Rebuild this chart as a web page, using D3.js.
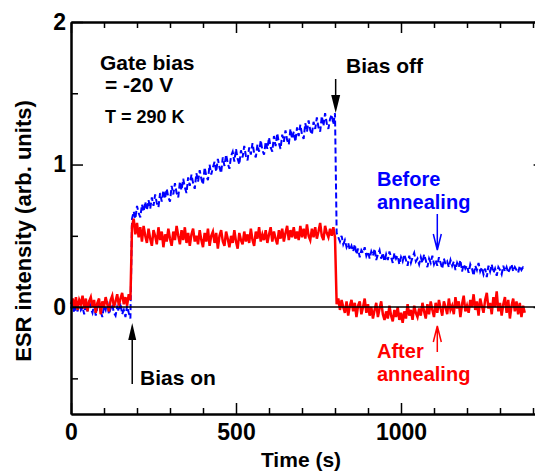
<!DOCTYPE html>
<html>
<head>
<meta charset="utf-8">
<script src="https://cdn.jsdelivr.net/npm/d3@7"></script>
<style>
  body { margin: 0; background: #fff; }
  svg text { font-family: "Liberation Sans", Arial, sans-serif; font-weight: bold; }
</style>
</head>
<body>
<div id="chart"></div>
<script>
var SAMPLE_STEP = 5;

// before annealing (blue, dashed)
var beforePre = [-0.01,0.03,-0.04,0.01,-0.03,0.04,-0.02,0.00,-0.05,0.02,-0.03,0.05,-0.01,-0.04,0.02,-0.06,0.00,0.03,-0.03,-0.07,
  0.01,-0.02,0.04,-0.05,-0.01,0.02,-0.04,-0.06,0.00,-0.03,0.03,-0.05,-0.02,-0.07,0.01,-0.04,-0.08];
var beforeOn = [0.62,0.67,0.62,0.71,0.66,0.63,0.72,0.67,0.74,0.68,
  0.75,0.69,0.77,0.71,0.79,0.73,0.70,0.80,0.74,0.82,
  0.76,0.83,0.77,0.74,0.85,0.79,0.87,0.80,0.77,0.88,
  0.82,0.90,0.84,0.80,0.91,0.85,0.93,0.87,0.83,0.94,
  0.88,0.96,0.90,0.86,0.98,0.92,0.89,1.00,0.93,0.98,
  1.02,0.95,1.04,0.98,0.94,1.05,0.99,1.07,1.01,0.97,
  1.06,1.09,1.02,1.11,1.04,1.00,1.10,1.05,1.13,1.06,
  1.03,1.12,1.07,1.15,1.08,1.05,1.14,1.09,1.17,1.10,
  1.07,1.16,1.11,1.19,1.12,1.09,1.20,1.13,1.22,1.15,
  1.11,1.21,1.16,1.24,1.17,1.14,1.25,1.18,1.23,1.16,
  1.26,1.20,1.28,1.21,1.18,1.29,1.23,1.31,1.24,1.21,
  1.30,1.25,1.33,1.26,1.23,1.34,1.27,1.36,1.29,1.25,
  1.32,1.35,1.28,1.36];
var beforeOff = [0.52,0.49,0.46,0.50,0.44,0.47,0.42,0.45,0.40,0.43,
  0.39,0.44,0.37,0.41,0.35,0.40,0.38,0.42,0.36,0.39,
  0.34,0.39,0.36,0.41,0.33,0.37,0.40,0.34,0.38,0.32,
  0.37,0.33,0.39,0.35,0.31,0.38,0.34,0.36,0.30,0.35,
  0.32,0.37,0.33,0.29,0.36,0.31,0.35,0.38,0.32,0.34,
  0.30,0.35,0.31,0.37,0.33,0.28,0.34,0.31,0.36,0.30,
  0.33,0.29,0.35,0.31,0.27,0.34,0.30,0.32,0.28,0.33,
  0.29,0.32,0.26,0.31,0.28,0.33,0.25,0.30,0.27,0.29,
  0.24,0.30,0.27,0.22,0.29,0.26,0.31,0.25,0.28,0.23,
  0.27,0.21,0.29,0.25,0.30,0.24,0.27,0.22,0.28,0.26,
  0.23,0.29,0.25,0.28,0.24,0.27,0.30,0.25,0.28,0.26,
  0.24,0.29,0.26,0.28,0.27];

// after annealing (red, solid)
var afterPre = [0.02,0.06,0.00,0.07,-0.02,0.05,0.02,0.08,-0.01,0.06,-0.03,0.04,0.07,0.00,0.05,-0.04,0.03,0.06,-0.05,0.04,
  0.00,0.07,0.02,-0.03,0.05,0.08,0.00,0.04,0.09,0.01,0.06,0.10,0.02,0.07,0.01,0.09,0.05];
var afterOn = [0.57,0.62,0.51,0.59,0.49,0.56,0.46,0.57,0.50,0.45,
  0.55,0.48,0.43,0.54,0.50,0.44,0.56,0.47,0.53,0.42,
  0.51,0.46,0.55,0.48,0.43,0.53,0.47,0.57,0.50,0.44,
  0.54,0.47,0.56,0.45,0.52,0.43,0.51,0.55,0.46,0.50,
  0.44,0.54,0.47,0.42,0.52,0.46,0.55,0.43,0.50,0.53,
  0.45,0.52,0.41,0.50,0.54,0.46,0.43,0.53,0.48,0.42,
  0.50,0.45,0.54,0.46,0.41,0.52,0.47,0.44,0.53,0.46,
  0.51,0.45,0.55,0.47,0.43,0.53,0.48,0.56,0.46,0.51,
  0.47,0.54,0.45,0.51,0.56,0.46,0.53,0.48,0.44,0.54,
  0.48,0.55,0.46,0.52,0.57,0.47,0.54,0.49,0.56,0.48,
  0.53,0.47,0.57,0.49,0.55,0.48,0.58,0.50,0.47,0.55,
  0.49,0.56,0.48,0.53,0.59,0.50,0.47,0.57,0.52,0.49,
  0.55,0.50,0.56,0.49];
var afterOff = [0.02,0.06,-0.02,0.05,0.00,-0.04,0.04,-0.06,0.01,0.05,
  -0.03,0.03,-0.07,0.01,0.04,-0.05,0.00,0.06,-0.04,0.02,
  -0.06,0.00,-0.08,-0.02,0.03,-0.07,-0.01,0.04,-0.05,-0.09,
  -0.03,-0.08,0.01,-0.06,-0.10,-0.02,-0.07,0.00,-0.09,-0.04,
  -0.11,-0.03,-0.08,0.02,-0.06,-0.02,-0.09,0.01,-0.04,-0.07,
  -0.01,-0.06,0.03,-0.03,-0.08,0.02,-0.05,0.04,-0.02,-0.07,
  0.03,-0.04,0.05,-0.01,-0.06,0.04,0.00,-0.05,0.06,-0.02,
  0.01,-0.05,0.07,-0.01,0.04,-0.07,0.02,0.08,-0.03,0.01,
  -0.04,0.05,0.00,0.09,-0.02,0.04,-0.06,0.06,0.01,-0.04,
  0.05,0.10,-0.01,0.03,-0.05,0.07,0.00,0.11,-0.03,0.03,
  -0.06,0.02,0.07,-0.04,0.05,-0.08,0.01,0.06,-0.03,0.04,
  -0.05,0.03,-0.07,0.01,-0.04];

var BIAS_ON = 184, BIAS_OFF = 802;
var xMajor = [0, 500, 1000];
var xMinor = [100, 200, 300, 400, 600, 700, 800, 900, 1100, 1200, 1300, 1400];
var yMajor = [0, 1, 2];
var yMinor = [-0.5, 0.5, 1.5];

var width = 535, height = 472;

var x = d3.scaleLinear().domain([0, 1420]).range([71, 539.6]);
var y = d3.scaleLinear().domain([-0.75, 2]).range([414, 22]);

function toPoints(vals) {
    return vals.map(function(v, i) { return [i * SAMPLE_STEP, v]; });
}
var beforeData = toPoints(beforePre.concat(beforeOn, beforeOff));
var afterData = toPoints(afterPre.concat(afterOn, afterOff));

var svg = d3.select("#chart").append("svg")
    .attr("width", width)
    .attr("height", height);

svg.append("rect").attr("width", width).attr("height", height).attr("fill", "#fff");

var line = d3.line()
    .x(function(d) { return x(d[0]); })
    .y(function(d) { return y(d[1]); });

svg.append("path")
    .datum(beforeData)
    .attr("d", line)
    .attr("fill", "none")
    .attr("stroke", "#0000ff")
    .attr("stroke-width", 2)
    .attr("stroke-dasharray", "6,3");

svg.append("path")
    .datum(afterData)
    .attr("d", line)
    .attr("fill", "none")
    .attr("stroke", "#ff0000")
    .attr("stroke-width", 2.5);

// zero line
svg.append("line")
    .attr("x1", x(0)).attr("x2", x(1420))
    .attr("y1", y(0)).attr("y2", y(0))
    .attr("stroke", "#000").attr("stroke-width", 1.5);

// axes: ticks point inward
function drawAxis(axis, tx, ty) {
    var g = svg.append("g")
        .attr("transform", "translate(" + tx + "," + ty + ")")
        .call(axis);
    g.select(".domain").attr("stroke", "#000").attr("stroke-width", 2);
    g.selectAll(".tick line").attr("stroke", "#000").attr("stroke-width", 1.5);
    g.selectAll(".tick text").attr("font-size", 23).attr("fill", "#000")
        .style("font-family", "'Liberation Sans', Arial, sans-serif").style("font-weight", "bold");
    return g;
}

var yBottom = y(-0.75), yTop = y(2), xLeft = x(0), xRight = x(1420);

drawAxis(d3.axisBottom(x).tickValues(xMajor).tickSizeInner(-11).tickSizeOuter(0).tickPadding(10).tickFormat(d3.format("d")), 0, yBottom);
drawAxis(d3.axisBottom(x).tickValues(xMinor).tickSizeInner(-6).tickSizeOuter(0).tickFormat(""), 0, yBottom);
drawAxis(d3.axisTop(x).tickValues(xMajor).tickSizeInner(-11).tickSizeOuter(0).tickFormat(""), 0, yTop);
drawAxis(d3.axisTop(x).tickValues(xMinor).tickSizeInner(-6).tickSizeOuter(0).tickFormat(""), 0, yTop);
drawAxis(d3.axisLeft(y).tickValues(yMajor).tickSizeInner(-12).tickSizeOuter(0).tickPadding(5).tickFormat(d3.format("d")), xLeft, 0);
drawAxis(d3.axisLeft(y).tickValues(yMinor).tickSizeInner(-7).tickSizeOuter(0).tickFormat(""), xLeft, 0);
drawAxis(d3.axisRight(y).tickValues(yMajor).tickSizeInner(-6).tickSizeOuter(0).tickFormat(""), xRight, 0);

// axis titles
svg.append("text")
    .attr("x", 301).attr("y", 467)
    .attr("text-anchor", "middle")
    .attr("font-size", 21)
    .text("Time (s)");

svg.append("text")
    .attr("transform", "translate(31,231) rotate(-90)")
    .attr("text-anchor", "middle")
    .attr("font-size", 22)
    .text("ESR intensity (arb. units)");

// annotations
function label(txt, lx, ly, size, color) {
    svg.append("text")
        .attr("x", lx).attr("y", ly)
        .attr("font-size", size)
        .attr("fill", color || "#000")
        .text(txt);
}
label("Gate bias", 100, 70, 21);
label("= -20 V", 105, 92, 21);
label("T = 290 K", 105, 123, 18);
label("Bias off", 346, 73, 21);
label("Bias on", 140, 385, 21);
label("Before", 377, 186, 20, "#0000ff");
label("annealing", 377, 209, 20, "#0000ff");
label("After", 377, 358, 20, "#ff0000");
label("annealing", 377, 381, 20, "#ff0000");

// filled arrows for bias on / off
function filledArrow(ax, y1, tip, base, half) {
    svg.append("line").attr("x1", ax).attr("x2", ax).attr("y1", y1).attr("y2", base)
        .attr("stroke", "#000").attr("stroke-width", 1.5);
    svg.append("path")
        .attr("d", "M" + ax + "," + tip + "L" + (ax - half) + "," + base + "L" + (ax + half) + "," + base + "Z")
        .attr("fill", "#000");
}
filledArrow(x(BIAS_OFF), 79, 113, 95, 4.5);
filledArrow(x(BIAS_ON) + 0.5, 384, 323, 340, 4);

// open arrows for the two curves
function openArrow(ax, y1, tip, color) {
    var dir = tip > y1 ? -1 : 1;
    svg.append("path")
        .attr("d", "M" + ax + "," + y1 + "L" + ax + "," + tip +
            "M" + (ax - 4) + "," + (tip + dir * 16) + "L" + ax + "," + tip + "L" + (ax + 4) + "," + (tip + dir * 16))
        .attr("fill", "none")
        .attr("stroke", color)
        .attr("stroke-width", 1.5);
}
openArrow(x(1110), 214, 250, "#0000ff");
openArrow(x(1110), 352, 326, "#ff0000");
</script>
</body>
</html>
